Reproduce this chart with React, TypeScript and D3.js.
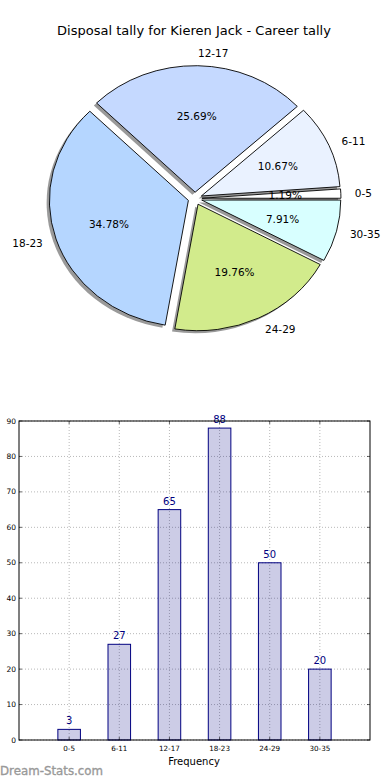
import React from 'react';
import * as d3 from 'd3';

const categories = ['0-5', '6-11', '12-17', '18-23', '24-29', '30-35'];
const counts = [3, 27, 65, 88, 50, 20];
const sliceColors = ['#ffffff', '#eaf2ff', '#c5d9ff', '#b5d6ff', '#d2eb8c', '#d8ffff'];
const yTicks = [0, 10, 20, 30, 40, 50, 60, 70, 80, 90];

const W = 390;
const H = 780;
const FONT = 'DejaVu Sans, sans-serif';

// pie geometry (matplotlib style, not axis-equal so it is an ellipse)
const pieC = { x: 195, y: 198.5 };
const rx = 139;
const ry = 126.5;
const explode = 0.05;

// bar axes box
const box = { left: 19, right: 370, top: 421, bottom: 740 };

const App: React.FC = () => {
  const total = d3.sum(counts);

  // counter-clockwise from 3 o'clock, like matplotlib
  const pie = d3.pie<number>().sort(null).startAngle(Math.PI / 2).endAngle(Math.PI / 2 - 2 * Math.PI);
  const arcs = pie(counts);
  const arc = d3.arc<d3.PieArcDatum<number>>().innerRadius(0).outerRadius(1);

  const slices = arcs.map((a, i) => {
    const mid = Math.PI / 2 - (a.startAngle + a.endAngle) / 2; // matplotlib angle
    const dx = explode * rx * Math.cos(mid);
    const dy = -explode * ry * Math.sin(mid);
    return { a, i, mid, dx, dy };
  });

  const x = d3.scaleLinear().domain([-1, 6]).range([box.left, box.right]);
  const y = d3.scaleLinear().domain([0, 90]).range([box.bottom, box.top]);
  const barW = x(0.45) - x(0);

  return (
    <div style={{ position: 'absolute', top: 0, left: 0 }}>
      <svg width={W} height={H} style={{ display: 'block', background: '#fff' }} fontFamily={FONT}>
        <text x={194} y={30} textAnchor="middle" dominantBaseline="central" fontSize={13} fill="#000">
          Disposal tally for Kieren Jack - Career tally
        </text>

        {/* shadows */}
        {slices.map(s => (
          <path
            key={'sh' + s.i}
            d={arc(s.a) || ''}
            transform={`translate(${pieC.x + s.dx - 0.02 * rx},${pieC.y + s.dy + 0.02 * ry}) scale(${rx},${ry})`}
            fill="#9a9a9a"
          />
        ))}
        {/* wedges */}
        {slices.map(s => (
          <path
            key={'w' + s.i}
            d={arc(s.a) || ''}
            transform={`translate(${pieC.x + s.dx},${pieC.y + s.dy}) scale(${rx},${ry})`}
            fill={sliceColors[s.i]}
            stroke="#000"
            strokeWidth={0.9}
            vectorEffect="non-scaling-stroke"
            strokeLinejoin="round"
          />
        ))}
        {/* labels */}
        {slices.map(s => {
          const c = Math.cos(s.mid);
          const lx = pieC.x + (explode + 1.1) * rx * c;
          const ly = pieC.y - (explode + 1.1) * ry * Math.sin(s.mid);
          const px = pieC.x + (explode + 0.6) * rx * c;
          const py = pieC.y - (explode + 0.6) * ry * Math.sin(s.mid);
          return (
            <g key={'l' + s.i} fontSize={10.5}>
              <text x={lx} y={ly} textAnchor={c > 0 ? 'start' : 'end'} dominantBaseline="central">
                {categories[s.i]}
              </text>
              <text x={px} y={py} textAnchor="middle" dominantBaseline="central">
                {((counts[s.i] / total) * 100).toFixed(2)}%
              </text>
            </g>
          );
        })}

        {/* bar chart grid */}
        {yTicks.map(t => (
          <line key={'gy' + t} x1={box.left} x2={box.right} y1={y(t)} y2={y(t)}
            stroke="#b8b8b8" strokeWidth={1} strokeDasharray="1,2" />
        ))}
        {categories.map((c, i) => (
          <line key={'gx' + c} x1={x(i)} x2={x(i)} y1={box.top} y2={box.bottom}
            stroke="#b8b8b8" strokeWidth={1} strokeDasharray="1,2" />
        ))}

        {/* bars */}
        {counts.map((v, i) => (
          <g key={'b' + i}>
            <rect x={x(i) - barW / 2} y={y(v)} width={barW} height={y(0) - y(v)}
              fill="#000080" fillOpacity={0.2} stroke="#000080" strokeWidth={1} />
            <text x={x(i)} y={y(v) - 5} textAnchor="middle" fontSize={10} fill="#000080">{v}</text>
          </g>
        ))}

        {/* axes box and ticks */}
        <rect x={box.left} y={box.top} width={box.right - box.left} height={box.bottom - box.top}
          fill="none" stroke="#000" strokeWidth={1} />
        {yTicks.map(t => (
          <g key={'ty' + t}>
            <line x1={box.left} x2={box.left + 3} y1={y(t)} y2={y(t)} stroke="#000" strokeWidth={0.6} />
            <line x1={box.right - 3} x2={box.right} y1={y(t)} y2={y(t)} stroke="#000" strokeWidth={0.6} />
            <text x={box.left - 3} y={y(t)} textAnchor="end" dominantBaseline="central" fontSize={7.5}>{t}</text>
          </g>
        ))}
        {categories.map((c, i) => (
          <g key={'tx' + c}>
            <line x1={x(i)} x2={x(i)} y1={box.bottom} y2={box.bottom - 3} stroke="#000" strokeWidth={0.6} />
            <line x1={x(i)} x2={x(i)} y1={box.top} y2={box.top + 3} stroke="#000" strokeWidth={0.6} />
            <text x={x(i)} y={748} textAnchor="middle" dominantBaseline="central" fontSize={7.2}>{c}</text>
          </g>
        ))}
        <text x={194} y={761} textAnchor="middle" dominantBaseline="central" fontSize={10}>Frequency</text>

        <text x={0} y={771} dominantBaseline="central" fontSize={11.8} fill="#999"
          stroke="#999" strokeWidth={0.35}>Dream-Stats.com</text>
      </svg>
    </div>
  );
};

export default App;
